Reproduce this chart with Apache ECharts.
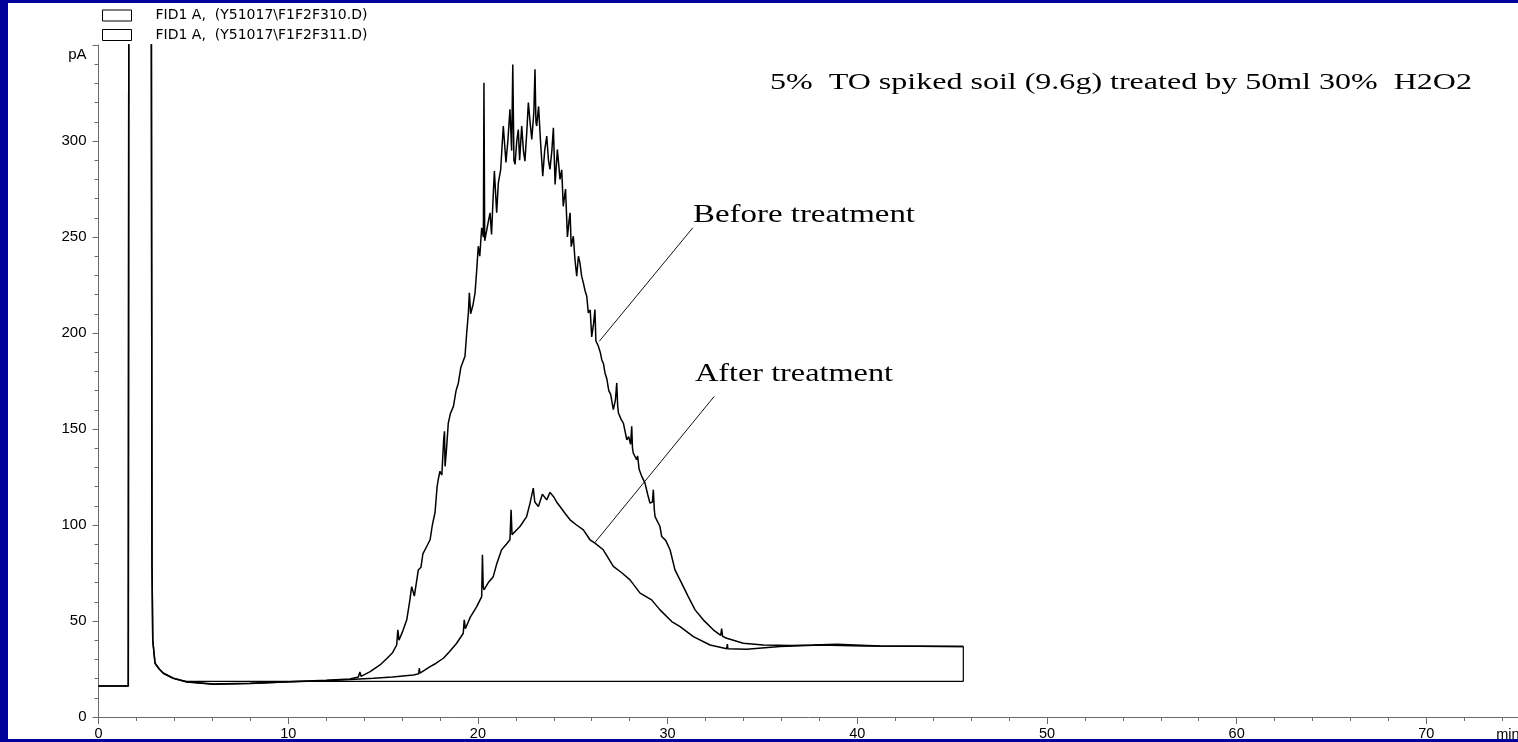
<!DOCTYPE html>
<html>
<head>
<meta charset="utf-8">
<script src="https://cdn.jsdelivr.net/npm/echarts@6/dist/echarts.min.js"></script>
<style>
html,body{margin:0;padding:0;width:1518px;height:742px;background:#00009a;overflow:hidden;}
#chart{position:absolute;left:8px;top:3px;width:1510px;height:736px;background:#fff;}
</style>
</head>
<body>
<div id="chart"></div>
<script>
// ---- data (time in min, signal in pA) ----
const legendNames = ['FID1 A,  (Y51017\\F1F2F310.D)', 'FID1 A,  (Y51017\\F1F2F311.D)'];
const xTicks = [0, 10, 20, 30, 40, 50, 60, 70];
const yTicks = [0, 50, 100, 150, 200, 250, 300];

const beforeTime = [0,1.57,1.6,2.78,2.82,2.86,2.98,3.2,3.42,3.94,4.65,6.05,8,10.1,12,13.26,13.7,13.78,13.84,14.3,14.84,15.2,15.5,15.72,15.78,15.84,16.05,16.25,16.4,16.51,16.65,16.86,17.0,17.1,17.3,17.48,17.6,17.74,17.85,17.91,18.0,18.1,18.2,18.24,18.27,18.35,18.44,18.55,18.71,18.85,18.97,19.1,19.32,19.41,19.5,19.55,19.62,19.75,19.85,19.94,20.02,20.1,20.2,20.29,20.32,20.36,20.46,20.55,20.64,20.72,20.8,20.87,20.99,21.08,21.2,21.34,21.48,21.58,21.69,21.78,21.84,21.9,21.96,22.05,22.13,22.2,22.31,22.4,22.48,22.58,22.66,22.75,22.84,22.95,23.01,23.06,23.1,23.2,23.3,23.42,23.52,23.63,23.72,23.8,23.9,23.98,24.07,24.19,24.33,24.42,24.5,24.62,24.72,24.8,24.86,24.92,25.03,25.12,25.21,25.3,25.38,25.47,25.56,25.65,25.74,25.82,25.92,26.0,26.1,26.17,26.22,26.35,26.45,26.53,26.62,26.7,26.8,26.9,27.0,27.14,27.25,27.32,27.37,27.41,27.55,27.67,27.85,27.95,28.05,28.11,28.15,28.19,28.37,28.42,28.5,28.64,28.81,28.95,29.07,29.2,29.25,29.3,29.34,29.6,29.69,29.9,30.13,30.39,30.74,31.09,31.45,31.88,32.41,32.8,32.85,32.9,33.12,33.99,35.05,36.5,37.68,38.91,41.2,45.59];
const beforeSignal = [16.2,16.2,420,420,80,40,28,25,22.8,20.2,18.4,17.2,17.6,18.4,19.1,19.8,20.8,23.5,21.2,23.5,27.1,30.5,33.5,37.5,45.4,40,45,50.6,60,67.9,63,76.6,78,85,88.8,92.3,100,106.4,120,123.6,128,126,145,148.8,130.5,140,153.1,158,161.8,170,174,182,187.9,200,210.6,220.9,210,215,220.9,233,245.2,240,254.8,250,330.4,248,247,258,262.6,251.3,270,284.3,262.6,278.3,285,307.8,288.8,300,316.5,295,339.9,290,287.8,300,306,290,307.8,295,289.5,305,320,310,300.8,315,337.3,310,307.8,318,300,281.7,295,302.6,290,285.2,295,306.9,277.4,295.6,280,285,266,275,250,258,262.6,245,250.4,238,229.6,240,236.5,229.6,226.1,222,219.1,210.5,212,198,205,212.2,196,193.1,190,186.1,184,179.2,176,170,168,160.1,165,174,162,158.3,155,153.1,144.4,146,142,151.4,140,137.5,134,136,129,125.3,121.8,116,111.4,112,118.4,108,104.4,99.2,94,92,87.1,76.6,69.7,62.7,55.8,50.6,45.4,42.5,46,42,41,38.4,37.5,37.3,37.5,37.9,37,36.7];

const afterTime = [0,1.57,1.6,2.78,2.82,2.86,2.98,3.2,3.42,3.94,4.65,6.05,8,10.1,12,13.26,14.5,15.5,16.6,16.88,16.91,16.95,17.48,17.8,18.18,18.5,18.88,19.23,19.28,19.34,19.6,19.94,20.2,20.24,20.28,20.32,20.55,20.81,21.0,21.25,21.5,21.69,21.75,21.8,22.0,22.22,22.57,22.75,22.92,23.0,23.19,23.4,23.63,23.8,23.98,24.15,24.33,24.6,24.86,25.2,25.56,25.91,26.17,26.61,27.14,27.6,28.02,28.55,29.16,29.6,30.22,30.66,31.36,32.24,33.12,33.15,33.18,34.17,35.93,38.04,40.32,45.59];
const afterSignal = [16.2,16.2,420,420,80,40,28,25,22.8,20.2,18.2,17.0,17.5,18.3,18.9,19.5,20.2,20.8,21.9,22.5,25.4,22.8,26.2,28,30.6,34,38.4,43.6,50.6,46,52,57.5,62.7,84.5,68,66.2,70,73.1,80,87.1,90,92.3,107.9,95,97,99.2,104.4,111.4,119.2,112,109.6,116,113.1,117,114.9,112,109.6,106,102.7,100,97.5,92.3,90.6,87.1,78.4,75,71.4,64.5,61,55.8,49.7,47.1,41.9,37.5,35.5,38,35.5,35.3,36.7,37.5,37,36.7];

const boxTime = [4.5, 45.59, 45.59];
const boxSignal = [18.6, 18.6, 36.7];

// leader lines for the annotations [t, pA]
const beforeLeader = [[26.40, 195.7], [31.33, 254.8]];
const afterLeader = [[26.17, 90.9], [32.46, 167.0]];

const titleText = '5%  TO spiked soil (9.6g) treated by 50ml 30%  H2O2';
const beforeText = 'Before treatment';
const afterText = 'After treatment';

// ---- build ----
const zip = (a, b) => a.map((t, i) => [t, b[i]]);
const serif = '"Liberation Serif", "Times New Roman", serif';
const sans = '"Liberation Sans", Arial, sans-serif';
const cv = document.createElement('canvas').getContext('2d');
function fitScale(text, size, target) {
  cv.font = size + 'px ' + serif;
  return target / cv.measureText(text).width;
}
function stretchedText(text, x, y, size, targetWidth) {
  return {
    type: 'text', x: x, y: y, silent: true,
    scaleX: fitScale(text, size, targetWidth), scaleY: 1,
    style: { text: text, fontSize: size, fontFamily: serif, fill: '#000', align: 'left', verticalAlign: 'middle' }
  };
}

const axisGray = '#6a6a6a';
const chart = echarts.init(document.getElementById('chart'), null, { renderer: 'canvas' });
chart.setOption({
  animation: false,
  backgroundColor: '#fff',
  legend: {
    data: legendNames,
    orient: 'vertical', left: 94, top: 5.5, padding: 0,
    itemWidth: 29, itemHeight: 11, itemGap: 5.5,
    icon: 'rect',
    itemStyle: { color: '#fff', borderColor: '#000', borderWidth: 1 },
    lineStyle: { opacity: 0 },
    selectedMode: false,
    textStyle: { fontFamily: '"DejaVu Sans", sans-serif', fontSize: 14, color: '#000', padding: [2, 0, 0, 19] }
  },
  grid: { left: 90.5, right: -3.2, top: 42, bottom: 22, containLabel: false, outerBoundsMode: 'none' },
  xAxis: {
    type: 'value', min: 0, max: 75, interval: 10,
    name: 'min', nameLocation: 'end', nameGap: -25,
    nameTextStyle: { fontFamily: sans, fontSize: 14.5, color: '#000', align: 'left', verticalAlign: 'top', padding: [10, 0, 0, 0] },
    axisLine: { show: true, onZero: false, lineStyle: { color: axisGray, width: 1 } },
    axisTick: { show: true, length: 7, lineStyle: { color: axisGray } },
    minorTick: { show: true, splitNumber: 5, length: 4, lineStyle: { color: axisGray } },
    splitLine: { show: false },
    axisLabel: {
      margin: 9, showMaxLabel: false,
      fontFamily: sans, fontSize: 14.5, color: '#000',
      formatter: v => xTicks.indexOf(v) >= 0 ? String(v) : ''
    }
  },
  yAxis: {
    type: 'value', min: 0, max: 350, interval: 50,
    axisLine: { show: true, onZero: false, lineStyle: { color: axisGray, width: 1 } },
    axisTick: { show: true, length: 6, lineStyle: { color: axisGray } },
    minorTick: { show: true, splitNumber: 5, length: 4, lineStyle: { color: axisGray } },
    splitLine: { show: false },
    axisLabel: {
      margin: 12,
      fontFamily: sans, fontSize: 15, color: '#000',
      formatter: v => yTicks.indexOf(v) >= 0 ? String(v) : (v === 350 ? '{p|pA}' : ''),
      rich: { p: { fontFamily: sans, fontSize: 15, color: '#000', padding: [20, 0, 0, 0] } }
    }
  },
  series: [
    {
      name: legendNames[0], type: 'line', data: zip(beforeTime, beforeSignal),
      showSymbol: false, symbol: 'none', clip: true, silent: true,
      lineStyle: { color: '#000', width: 1.5 }, itemStyle: { color: '#000' },
      markLine: {
        silent: true, symbol: ['none', 'none'], label: { show: false },
        lineStyle: { color: '#111', width: 1, type: 'solid' },
        data: [
          [{ coord: beforeLeader[0] }, { coord: beforeLeader[1] }],
          [{ coord: afterLeader[0] }, { coord: afterLeader[1] }]
        ]
      }
    },
    {
      name: legendNames[1], type: 'line', data: zip(afterTime, afterSignal),
      showSymbol: false, symbol: 'none', clip: true, silent: true,
      lineStyle: { color: '#000', width: 1.5 }, itemStyle: { color: '#000' }
    },
    {
      name: 'box', type: 'line', data: zip(boxTime, boxSignal),
      showSymbol: false, symbol: 'none', clip: true, silent: true,
      lineStyle: { color: '#000', width: 1.2 }, itemStyle: { color: '#000' }
    }
  ],
  graphic: [
    stretchedText(titleText, 762, 79.8, 23, 702),
    stretchedText(beforeText, 685, 211.8, 25.5, 222),
    stretchedText(afterText, 687, 371.2, 25.5, 198)
  ]
});
</script>
</body>
</html>
